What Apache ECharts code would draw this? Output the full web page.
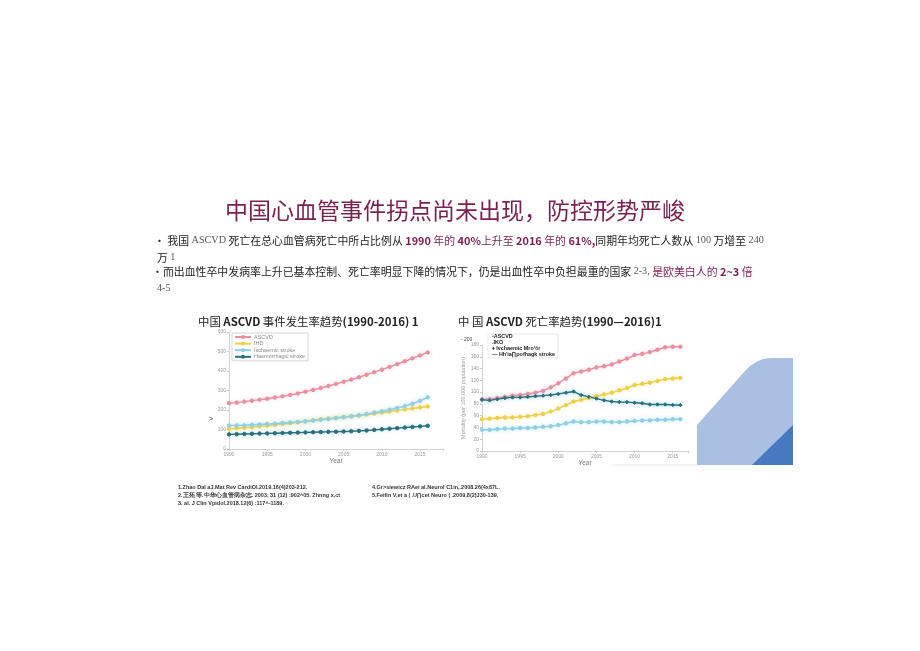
<!DOCTYPE html>
<html><head><meta charset="utf-8">
<script src="https://cdn.jsdelivr.net/npm/echarts@6/dist/echarts.min.js"></script>
<style>html,body{margin:0;padding:0;background:#fff}#c{width:920px;height:651px}</style>
</head><body><div id="c"></div>
<script>
// ---- data ----
const years = [1990,1991,1992,1993,1994,1995,1996,1997,1998,1999,2000,2001,2002,2003,2004,2005,2006,2007,2008,2009,2010,2011,2012,2013,2014,2015,2016];
const seriesNames = ['ASCVD','IHD','Ischaemic stroke','Haemorrhagic stroke'];
// incidence (per 100,000)
const incASCVD = [235,238,243,248,253,258,264,270,277,285,294,303,313,323,334,345,356,368,381,394,407,421,435,450,465,480,495];
const incIHD   = [103,106,109,112,116,120,124,128,132,137,142,147,152,156,160,164,168,172,177,182,187,192,198,203,208,213,218];
const incIsch  = [120,121,122,124,126,128,130,133,136,139,142,146,150,154,158,163,168,173,179,186,193,201,210,220,232,247,265];
const incHaem  = [75,76,77,78,79,80,81,82,83,84,85,86,87,88,89,90,91,93,95,98,101,104,107,110,113,116,119];
// mortality (per 100,000)
const mortASCVD = [88,88,90,92,94,95,97,99,102,108,115,123,132,135,138,142,144,147,152,157,163,165,168,172,176,177,177];
const mortIHD   = [54,55,56,57,57,58,59,61,63,67,72,78,84,87,90,93,96,99,103,107,112,114,116,119,122,123,124];
const mortHaem  = [87,86,88,90,91,91,92,93,94,95,97,99,101,95,92,89,86,84,83,83,82,81,79,79,79,78,78];
const mortIsch  = [36,36,37,38,38,39,39,40,41,42,44,47,50,49,49,50,50,49,49,50,51,52,52,53,53,54,54];
const incTicksY = [0,100,200,300,400,500,600];
const mortTicksY = [0,20,40,60,80,100,120,140,160,180];
const xTickLabels = [1990,1995,2000,2005,2010,2015];
const rightLegendText = ['-ASCVD','.IKO','\u2666 Ivchaemic Mro\u00bdr','\u2014 Hh\'ia\u220fpofhagk stroke'];
const refsLeft = ['1.Zhao Dal aJ.Mat Rev CardiOl.2019.16(4)203-212.','2.王拓 等.中华心血管病杂志. 2003, 31 (12) :902^05. Zhnng x,ct','3. al. J Clin Vpidol.2018.12(6) :117^-1189.'];
const refsRight = ['4.Gr>siewicz RAei al.Neurol C1in,.2008.26(4x87L.','5.Feifin V,et a | .U\u220fcet Neuro | .2009,8(2)J30-139.'];

const colors = {ASCVD:'#e88fa0', IHD:'#ecd04a', Isch:'#8dcfe4', Haem:'#2c6f7c'};
const magenta = '#7b1d50';
const CJK = '"Noto Sans CJK SC", "Noto Sans", sans-serif';

function pairs(v){ return years.map((y,i)=>[y,v[i]]); }
function mkSeries(name, vals, color, xi, sym, glow){
  return {
    type:'line', name, xAxisIndex:xi, yAxisIndex:xi, data:pairs(vals),
    symbol:sym, symbolSize:3.5, showSymbol:true,
    itemStyle:{color:color, borderColor:color},
    lineStyle:{color:color, width:1.4, shadowColor:glow, shadowBlur:4},
    silent:true, animation:false, z:3
  };
}
function xAx(gi, max){
  return {
    type:'value', gridIndex:gi, min:1990, max:max, interval:5,
    axisLine:{show:true, lineStyle:{color:'#c8c8c8', width:0.8}},
    axisTick:{show:true, length:2, lineStyle:{color:'#c8c8c8'}},
    splitLine:{show:false},
    axisLabel:{fontSize:5, color:'#999', margin:3, fontFamily:'Liberation Sans',
      formatter: v => xTickLabels.indexOf(v) >= 0 ? String(v) : ''},
    name:'Year', nameLocation:'middle', nameGap:8,
    nameTextStyle:{fontSize:6.5, color:'#777', fontFamily:'Liberation Sans'}
  };
}
function yAx(gi, max, interval, ticks, name){
  return {
    type:'value', gridIndex:gi, min:0, max:max, interval:interval,
    axisLine:{show:true, lineStyle:{color:'#c8c8c8', width:0.8}},
    axisTick:{show:true, length:2, lineStyle:{color:'#c8c8c8'}},
    splitLine:{show:false},
    axisLabel:{fontSize:5, color:'#999', margin:3, fontFamily:'Liberation Sans',
      formatter: v => ticks.indexOf(v) >= 0 ? String(v) : ''},
    name:name||'', nameLocation:'middle', nameGap:13, nameRotate:90,
    nameTextStyle:{fontSize:5.5, color:'#999', fontFamily:'Liberation Sans'}
  };
}

const chart = echarts.init(document.getElementById('c'), null, {renderer:'canvas'});
const refFont = {fontSize:5.5, fontWeight:'bold', color:'#333', fontFamily:'Liberation Sans', lineHeight:8};
const N = 'normal';
const richBullet = {
  k:{fontSize:10.9, color:'#222', fontFamily:CJK, fontWeight:N},
  s:{fontSize:10.2, color:'#555', fontFamily:'Liberation Serif', fontWeight:N},
  m:{fontSize:10.9, color:magenta, fontFamily:CJK, fontWeight:N},
  mb:{fontSize:10.9, color:magenta, fontWeight:'bold', fontFamily:CJK}
};
const richTitle = {
  k:{fontSize:11.4, color:'#222', fontFamily:CJK, fontWeight:N},
  b:{fontSize:11.4, color:'#222', fontWeight:'bold', fontFamily:CJK}
};

chart.setOption({
  animation:false,
  backgroundColor:'#ffffff',
  title:[
    {text:'中国心血管事件拐点尚未出现，防控形势严峻', left:225, top:199, padding:0,
      textStyle:{fontSize:23, fontWeight:N, color:'#7a1f4f', fontFamily:CJK}},
    {text:'{k|· 我国 }{s|ASCVD}{k| 死亡在总心血管病死亡中所占比例从 }{mb|1990}{m| 年的 }{mb|40%}{m|上升至 }{mb|2016}{m| 年的 }{mb|61%,}{k|同期年均死亡人数从 }{s|100}{k| 万增至 }{s|240}',
      left:154, top:235, padding:0, textStyle:{fontWeight:N, rich:richBullet}},
    {text:'{k|万 }{s|1}', left:157, top:252, padding:0, textStyle:{fontWeight:N, rich:richBullet}},
    {text:'{k|•而出血性卒中发病率上升已基本控制、死亡率明显下降的情况下，仍是出血性卒中负担最重的国家 }{s|2-3,}{m| 是欧美白人的 }{mb|2~3}{m| 倍}',
      left:152, top:266, padding:0, textStyle:{fontWeight:N, rich:richBullet}},
    {text:'{s|4-5}', left:157, top:283, padding:0, textStyle:{fontWeight:N, rich:richBullet}},
    {text:'{k|中国 }{b|ASCVD}{k| 事件发生率趋势}{b|(1990-2016) 1}', left:198, top:316, padding:0,
      textStyle:{fontWeight:N, rich:richTitle}},
    {text:'{k|中 国 }{b|ASCVD}{k| 死亡率趋势}{b|(1990—2016)1}', left:458, top:316, padding:0,
      textStyle:{fontWeight:N, rich:richTitle}},
    {text:refsLeft.join('\n'), left:178, top:483, padding:0, textStyle:refFont},
    {text:refsRight.join('\n'), left:372, top:483, padding:0, textStyle:refFont},
    {text:'- 200', left:461, top:337, padding:0, textStyle:{fontSize:5, fontWeight:N, color:'#444', fontFamily:'Liberation Sans'}},
    {text:'>', left:209, top:416, padding:0, textStyle:{fontSize:7, fontWeight:N, color:'#333', fontFamily:'Liberation Sans'}}
  ],
  legend:[
    {data:seriesNames, orient:'vertical', left:232, top:333, padding:[1,3,1,2], itemGap:0.6,
      itemWidth:16, itemHeight:5, borderColor:'#bbb', borderWidth:0.6,
      textStyle:{fontSize:5.5, color:'#8a8a8a', fontFamily:'Liberation Sans', padding:[0,0,0,-2]}},
    {data:seriesNames, orient:'vertical', left:488, top:334, padding:[0,3,1,1], itemGap:1,
      icon:'none', itemWidth:1, itemHeight:5, borderColor:'#d8d8d8', borderWidth:0.6,
      formatter: n => rightLegendText[seriesNames.indexOf(n)],
      textStyle:{fontSize:5.4, fontWeight:'bold', color:'#222', fontFamily:'Liberation Sans', padding:[0,0,0,-3]}}
  ],
  grid:[
    {left:229, right:477, top:332, bottom:202, show:false},
    {left:482, right:232, top:345, bottom:200, show:false}
  ],
  xAxis:[xAx(0,2018), xAx(1,2017)],
  yAxis:[yAx(0,600,100,incTicksY), yAx(1,180,20,mortTicksY,'Mortality (per 100,000 population)')],
  series:[
    mkSeries('ASCVD', incASCVD, colors.ASCVD, 0, 'circle', 'rgba(240,150,170,0.6)'),
    mkSeries('IHD', incIHD, colors.IHD, 0, 'circle', 'rgba(240,220,90,0.8)'),
    mkSeries('Ischaemic stroke', incIsch, colors.Isch, 0, 'circle', 'rgba(140,210,235,0.9)'),
    mkSeries('Haemorrhagic stroke', incHaem, colors.Haem, 0, 'circle', 'rgba(120,200,220,0.8)'),
    mkSeries('ASCVD', mortASCVD, colors.ASCVD, 1, 'circle', 'rgba(240,150,170,0.6)'),
    mkSeries('IHD', mortIHD, colors.IHD, 1, 'circle', 'rgba(240,220,90,0.8)'),
    mkSeries('Ischaemic stroke', mortIsch, colors.Isch, 1, 'circle', 'rgba(140,210,235,0.9)'),
    mkSeries('Haemorrhagic stroke', mortHaem, colors.Haem, 1, 'diamond', 'rgba(100,200,225,0.9)')
  ],
  graphic:[
    {type:'polygon', shape:{points:[[697,465],[697,425],[745,371],[750,366],[756,362],[763,359],[770,358],[793,358],[793,465]]},
      style:{fill:'#a9c0e3'}, z:10},
    {type:'polygon', shape:{points:[[752,465],[793,425],[793,465]]}, style:{fill:'#4679c0'}, z:11},
    {type:'line', shape:{x1:612, y1:465, x2:697, y2:465}, style:{stroke:'#e4e4e4', lineWidth:0.8}, z:9}
  ]
});
</script>
</body></html>
